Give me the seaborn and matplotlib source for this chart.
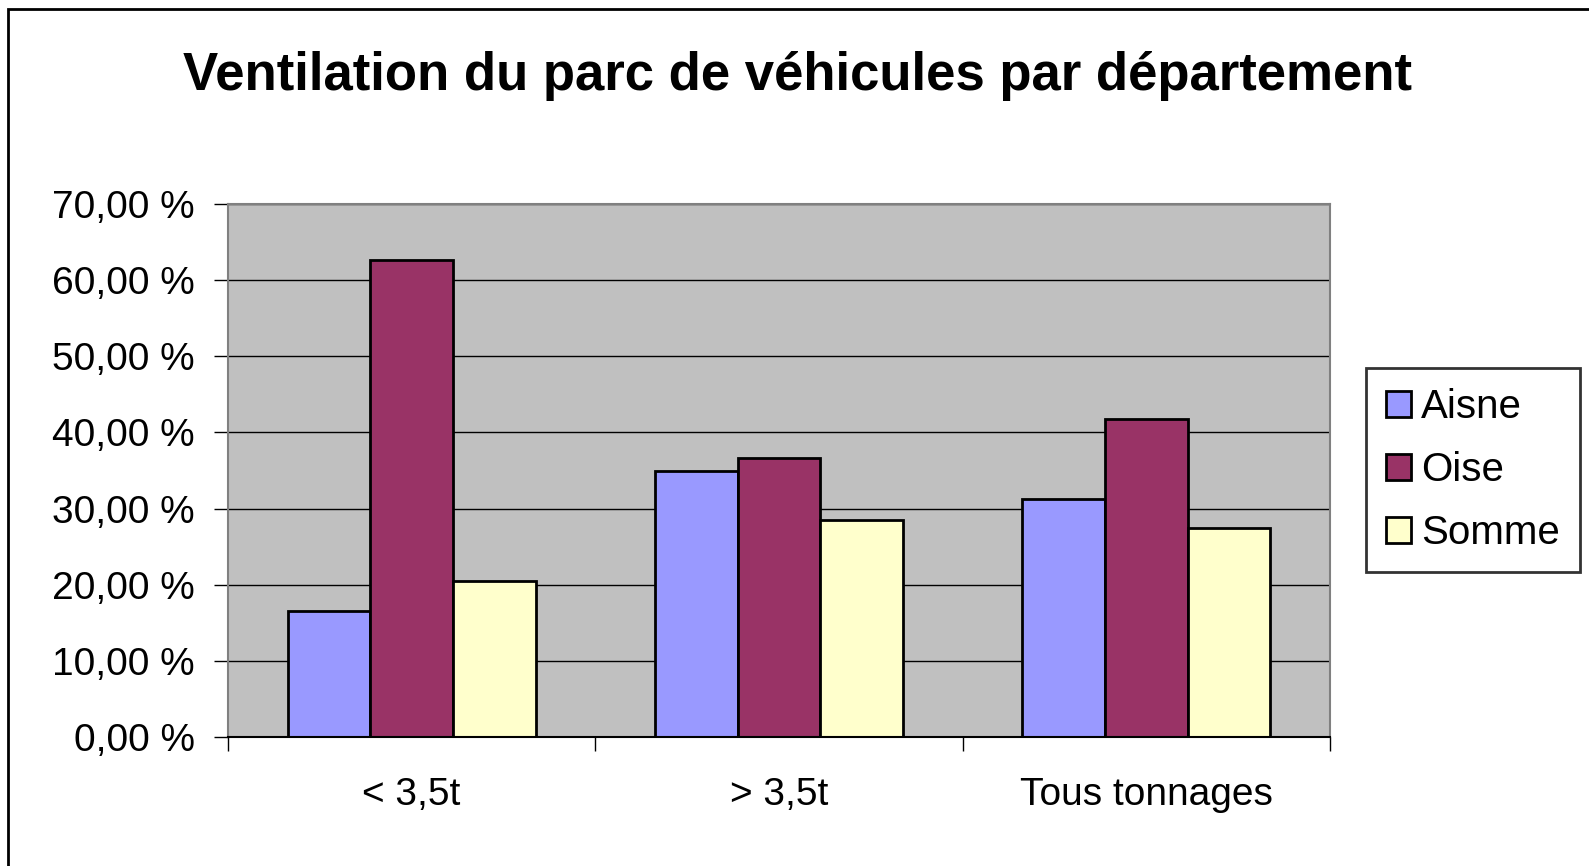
import pandas as pd
import matplotlib
matplotlib.use("Agg")
import matplotlib.pyplot as plt
import seaborn as sns
from matplotlib.patches import Rectangle

# data
categories = ["< 3,5t", "> 3,5t", "Tous tonnages"]
departements = ["Aisne", "Oise", "Somme"]
aisne = [16.6, 34.9, 31.3]
oise = [62.6, 36.6, 41.7]
somme = [20.5, 28.5, 27.4]
colors = ["#9999FF", "#993366", "#FFFFCC"]

df = pd.DataFrame({
    "categorie": categories * 3,
    "departement": [d for d in departements for _ in categories],
    "valeur": aisne + oise + somme,
})

sns.set_theme(style="white")
plt.rcParams["font.family"] = ["Liberation Sans", "DejaVu Sans"]
plt.rcParams["text.color"] = "black"
plt.rcParams["xtick.color"] = "black"
plt.rcParams["ytick.color"] = "black"

fig = plt.figure(figsize=(15.89, 8.66), dpi=100)
ax = fig.add_axes([228 / 1589, 1 - 737 / 866, (1330 - 228) / 1589, (737 - 204) / 866])
ax.set_facecolor("#C0C0C0")
ax.set_axisbelow(True)

sns.barplot(data=df, x="categorie", y="valeur", hue="departement",
            palette=colors, width=0.675, edgecolor="black", linewidth=2,
            saturation=1, ax=ax)

ax.set_ylim(0, 70)
ax.set_xlim(-0.5, 2.5)
ax.set_yticks(range(0, 71, 10))
ax.set_yticklabels([f"{v},00 %" for v in range(0, 71, 10)], fontsize=28)
ax.yaxis.grid(True, color="black", linewidth=1)
ax.set_xlabel("")
ax.set_ylabel("")

# category ticks sit on the boundaries, labels in the middle
ax.set_xticks([-0.5, 0.5, 1.5, 2.5], minor=False)
ax.set_xticklabels([])
ax.set_xticks([0, 1, 2], minor=True)
ax.set_xticklabels(categories, minor=True, fontsize=28)
ax.tick_params(axis="x", which="major", length=10, width=1, color="black", direction="out", bottom=True)
ax.tick_params(axis="x", which="minor", length=0, pad=29)
ax.tick_params(axis="y", length=10, width=1, color="black", direction="out", left=True, pad=14)

for side in ["top", "right", "left"]:
    ax.spines[side].set_color("#808080")
    ax.spines[side].set_linewidth(1.5)
ax.spines["bottom"].set_color("black")
ax.spines["bottom"].set_linewidth(1.5)

leg = ax.legend(loc="upper left", bbox_to_anchor=(1366 / 1589, 1 - 368 / 866),
                bbox_transform=fig.transFigure, fontsize=29, frameon=True,
                fancybox=False, edgecolor="black", borderaxespad=0,
                handlelength=0.62, handleheight=0.62, handletextpad=0.25,
                labelspacing=0.62, borderpad=0.5, title=None)
leg.get_frame().set_linewidth(2)
leg.get_frame().set_facecolor("white")
for h in leg.legend_handles:
    h.set_linewidth(2)

fig.text(0.502, 1 - 90 / 866, "Ventilation du parc de véhicules par département",
         ha="center", va="baseline", fontsize=38, fontweight="bold")

# outer chart border
fig.patches.append(Rectangle((8 / 1589, -0.1), 1.2, 1.1 - 9 / 866,
                             transform=fig.transFigure, fill=False,
                             edgecolor="black", linewidth=2))

fig.savefig("out.png", dpi=100)
